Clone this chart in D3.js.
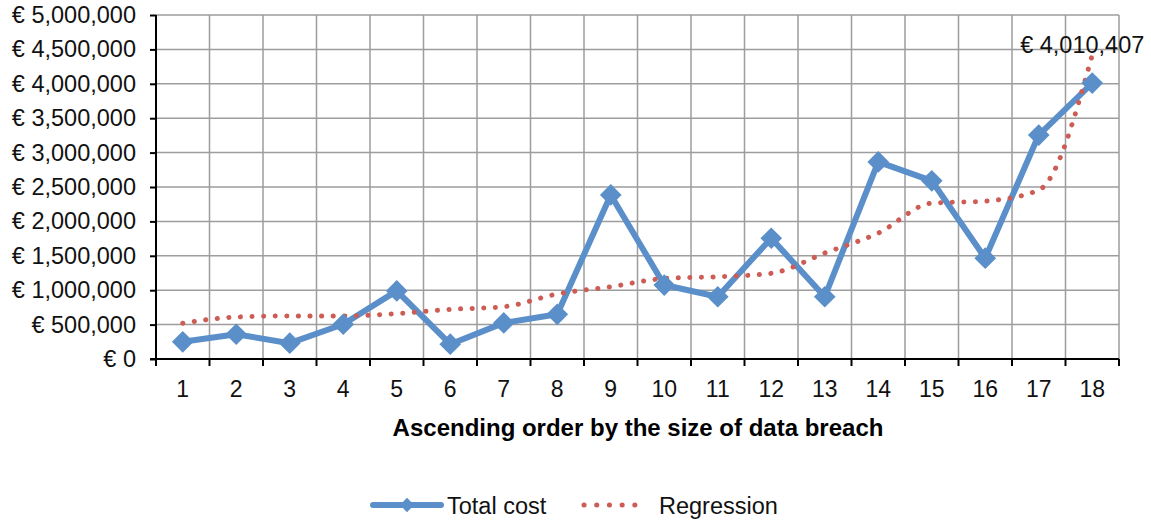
<!DOCTYPE html>
<html>
<head>
<meta charset="utf-8">
<script src="https://cdn.jsdelivr.net/npm/d3@7"></script>
<style>
  body { margin: 0; background: #fff; }
  svg { display: block; font-family: "Liberation Sans", Arial, sans-serif; }
</style>
</head>
<body>
<svg id="chart"></svg>
<script>
// ----- data -----
const categories = ["1", "2", "3", "4", "5", "6", "7", "8", "9", "10", "11", "12", "13", "14", "15", "16", "17", "18"];
const totalCost = [250000, 360000, 230000, 505000, 990000, 215000, 525000, 650000, 2385000,
    1075000, 905000, 1755000, 905000, 2865000, 2590000, 1465000, 3255000, 4010407];
const regression = [520000, 610000, 625000, 625000, 660000, 722000, 760000, 945000, 1050000,
    1170000, 1196000, 1245000, 1540000, 1830000, 2265000, 2295000, 2455000, 4420000];
const yTicks = [0, 500000, 1000000, 1500000, 2000000, 2500000, 3000000, 3500000, 4000000, 4500000, 5000000];
const seriesNames = ["Total cost", "Regression"];

// ----- setup -----
const width = 1151;
const height = 521;
const margin = { top: 15, right: 32, bottom: 162, left: 156 };
const innerWidth = width - margin.left - margin.right;
const innerHeight = height - margin.top - margin.bottom;

const blue = "#5b8fc9";
const red = "#cd5c55";

const svg = d3.select("#chart")
    .attr("width", width)
    .attr("height", height);

const g = svg.append("g")
    .attr("transform", `translate(${margin.left},${margin.top})`);

const x = d3.scaleBand().domain(categories).range([0, innerWidth]);
const y = d3.scaleLinear().domain([0, 5000000]).range([innerHeight, 0]);
const cx = d => x(d) + x.bandwidth() / 2;

const euro = v => "€ " + d3.format(",")(v);

// grid
g.append("g")
    .selectAll("line.hgrid")
    .data(yTicks)
    .join("line")
    .attr("x1", 0).attr("x2", innerWidth)
    .attr("y1", d => y(d)).attr("y2", d => y(d))
    .attr("stroke", "#9d9d9d").attr("stroke-width", 1.5);

const bounds = categories.map(c => x(c)).concat([innerWidth]);
g.append("g")
    .selectAll("line.vgrid")
    .data(bounds.slice(1))
    .join("line")
    .attr("x1", d => d).attr("x2", d => d)
    .attr("y1", 0).attr("y2", innerHeight)
    .attr("stroke", "#9d9d9d").attr("stroke-width", 1.5);

// axes
const yAxis = d3.axisLeft(y).tickValues(yTicks).tickFormat(euro).tickSize(6).tickPadding(14);
const yAxisG = g.append("g").call(yAxis);
yAxisG.select(".domain").attr("d", `M0,0V${innerHeight}`).attr("stroke", "#000").attr("stroke-width", 2);
yAxisG.selectAll(".tick line").attr("stroke", "#000").attr("stroke-width", 2);
yAxisG.selectAll("text").attr("font-size", "23.5px").attr("fill", "#111");

const xAxisG = g.append("g").attr("transform", `translate(0,${innerHeight})`);
xAxisG.append("line")
    .attr("x1", -6).attr("x2", innerWidth)
    .attr("stroke", "#000").attr("stroke-width", 2);
xAxisG.selectAll("line.xtick")
    .data(bounds)
    .join("line")
    .attr("x1", d => d).attr("x2", d => d)
    .attr("y1", 0).attr("y2", 7)
    .attr("stroke", "#000").attr("stroke-width", 2);
xAxisG.selectAll("text.xlab")
    .data(categories)
    .join("text")
    .attr("x", d => cx(d))
    .attr("y", 38)
    .attr("text-anchor", "middle")
    .attr("font-size", "23px")
    .attr("fill", "#111")
    .text(d => d);

svg.append("text")
    .attr("x", 638)
    .attr("y", 436)
    .attr("text-anchor", "middle")
    .attr("font-size", "24px")
    .attr("font-weight", "bold")
    .attr("fill", "#000")
    .text("Ascending order by the size of data breach");

// total cost line
const costData = categories.map((c, i) => ({ c, v: totalCost[i] }));
const regData = categories.map((c, i) => ({ c, v: regression[i] }));

g.append("path")
    .datum(costData)
    .attr("fill", "none")
    .attr("stroke", blue)
    .attr("stroke-width", 6)
    .attr("stroke-linejoin", "round")
    .attr("d", d3.line().x(d => cx(d.c)).y(d => y(d.v)));

// regression (dotted)
g.append("path")
    .datum(regData)
    .attr("fill", "none")
    .attr("stroke", red)
    .attr("stroke-width", 5)
    .attr("stroke-linecap", "round")
    .attr("stroke-dasharray", "0.1 11.5")
    .attr("d", d3.line().curve(d3.curveMonotoneX).x(d => cx(d.c)).y(d => y(d.v)));

// markers
const diamond = d3.symbol().type(d3.symbolDiamond2).size(300);
g.selectAll("path.marker")
    .data(costData)
    .join("path")
    .attr("class", "marker")
    .attr("transform", d => `translate(${cx(d.c)},${y(d.v)})`)
    .attr("d", diamond)
    .attr("fill", blue);

// label on last point
const last = costData[costData.length - 1];
g.append("text")
    .attr("x", cx(last.c) - 10)
    .attr("y", y(last.v) - 30)
    .attr("text-anchor", "middle")
    .attr("font-size", "23.5px")
    .attr("fill", "#111")
    .text(euro(last.v));

// legend
const legend = svg.append("g").attr("transform", "translate(0,505)");
legend.append("line")
    .attr("x1", 373).attr("x2", 441)
    .attr("stroke", blue).attr("stroke-width", 6).attr("stroke-linecap", "round");
legend.append("path")
    .attr("transform", "translate(407,0)")
    .attr("d", d3.symbol().type(d3.symbolDiamond2).size(130))
    .attr("fill", blue);
legend.append("text")
    .attr("x", 447).attr("y", 8.5)
    .attr("font-size", "23.5px").attr("fill", "#111")
    .text(seriesNames[0]);
legend.append("line")
    .attr("x1", 584).attr("x2", 647)
    .attr("stroke", red).attr("stroke-width", 5)
    .attr("stroke-linecap", "round")
    .attr("stroke-dasharray", "0.1 12.6");
legend.append("text")
    .attr("x", 659).attr("y", 8.5)
    .attr("font-size", "23.5px").attr("fill", "#111")
    .text(seriesNames[1]);
</script>
</body>
</html>
